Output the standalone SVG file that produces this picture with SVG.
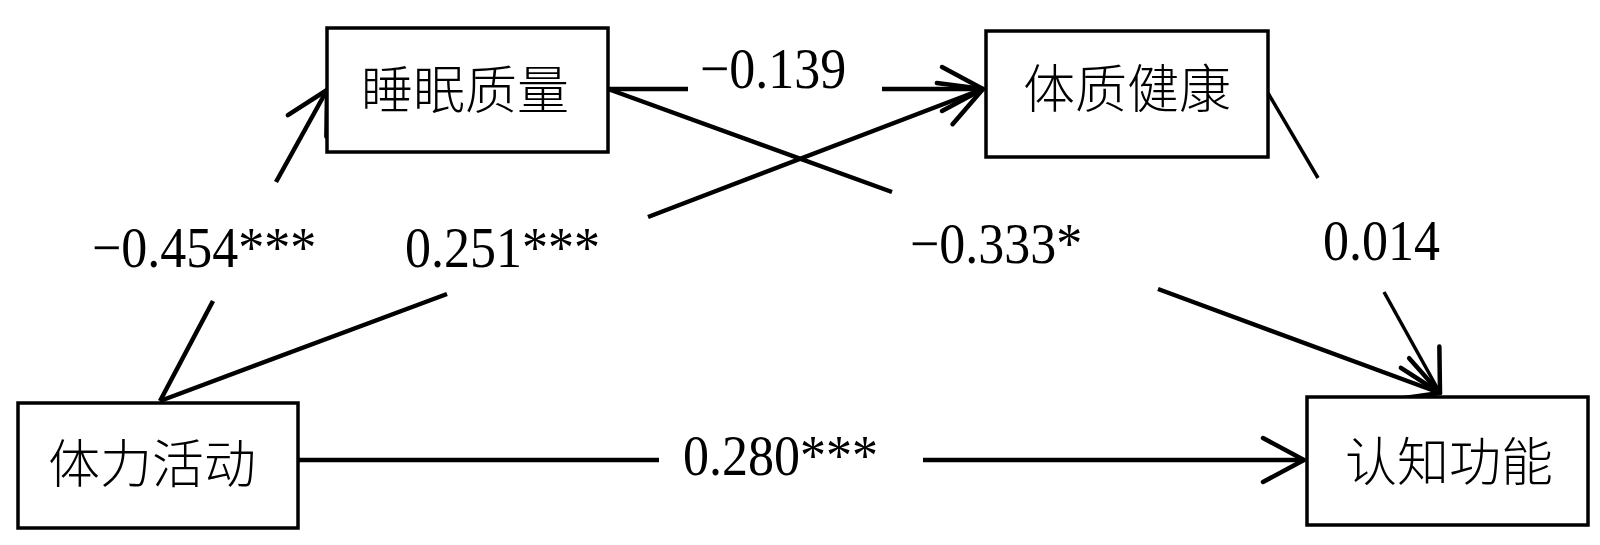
<svg xmlns="http://www.w3.org/2000/svg" width="1600" height="545" viewBox="0 0 1600 545">
  <style>
    .box { fill: #ffffff; stroke: #000000; stroke-width: 3.5; }
    .cjk { font-family: "Noto Sans CJK SC", "Noto Sans", sans-serif; font-size: 52px; font-weight: 300; fill: #000000; text-anchor: middle; }
    .num { font-family: "Liberation Serif", "Times New Roman", serif; font-size: 52px; fill: #000000; }
    .ln { fill: none; stroke: #000000; stroke-width: 4.5; stroke-linecap: butt; }
    .thin { stroke-width: 3.5; }
  </style>
  <defs>
    <marker id="arr" markerUnits="userSpaceOnUse" viewBox="-50 -30 60 60" markerWidth="60" markerHeight="60" refX="0" refY="0" orient="auto">
      <path d="M-41,-22 L0,0 L-41,22" fill="none" stroke="#000000" stroke-width="4.5" stroke-linejoin="round" stroke-linecap="round"/>
    </marker>
  </defs>
  <rect width="1600" height="545" fill="#ffffff"/>

  <g id="connectors">
    <!-- 体力活动 -> 睡眠质量 -->
    <line class="ln" x1="160" y1="401" x2="213" y2="301"/>
    <line class="ln" x1="276" y1="182" x2="327" y2="90" marker-end="url(#arr)"/>
    <!-- 体力活动 -> 体质健康 -->
    <line class="ln" x1="160" y1="401" x2="447" y2="294"/>
    <line class="ln" x1="648" y1="217" x2="983" y2="89" marker-end="url(#arr)"/>
    <!-- 睡眠质量 -> 体质健康 -->
    <line class="ln" x1="608" y1="89" x2="688" y2="89"/>
    <line class="ln" x1="882" y1="89" x2="983" y2="89" marker-end="url(#arr)"/>
    <!-- 睡眠质量 -> 认知功能 -->
    <line class="ln" x1="608" y1="89" x2="892" y2="192"/>
    <line class="ln" x1="1158" y1="289" x2="1440" y2="393" marker-end="url(#arr)"/>
    <!-- 体质健康 -> 认知功能 -->
    <line class="ln thin" x1="1268" y1="93" x2="1318" y2="178"/>
    <line class="ln thin" x1="1384" y1="292" x2="1440" y2="393" marker-end="url(#arr)"/>
    <!-- 体力活动 -> 认知功能 -->
    <line class="ln" x1="298" y1="460" x2="659" y2="460"/>
    <line class="ln" x1="923" y1="460" x2="1304" y2="460" marker-end="url(#arr)"/>
  </g>

  <g id="labels">
    <text class="num" transform="translate(92,267) scale(1,1.1)">−0.454***</text>
    <text class="num" transform="translate(405,267) scale(1,1.1)">0.251***</text>
    <text class="num" transform="translate(700,88) scale(1,1.1)">−0.139</text>
    <text class="num" transform="translate(910,263) scale(1,1.1)">−0.333*</text>
    <text class="num" transform="translate(1323,260) scale(1,1.1)">0.014</text>
    <text class="num" transform="translate(683,475) scale(1,1.1)">0.280***</text>
  </g>

  <g id="node-sleep">
    <rect class="box" x="327" y="28" width="281" height="124"/>
    <text class="cjk" x="465" y="109">睡眠质量</text>
  </g>
  <g id="node-fitness">
    <rect class="box" x="986" y="31" width="282" height="126"/>
    <text class="cjk" x="1127" y="108">体质健康</text>
  </g>
  <g id="node-activity">
    <rect class="box" x="18" y="403" width="280" height="125"/>
    <text class="cjk" x="152" y="483">体力活动</text>
  </g>
  <g id="node-cognition">
    <rect class="box" x="1307" y="397" width="281" height="128"/>
    <text class="cjk" x="1449" y="481">认知功能</text>
  </g>
</svg>
